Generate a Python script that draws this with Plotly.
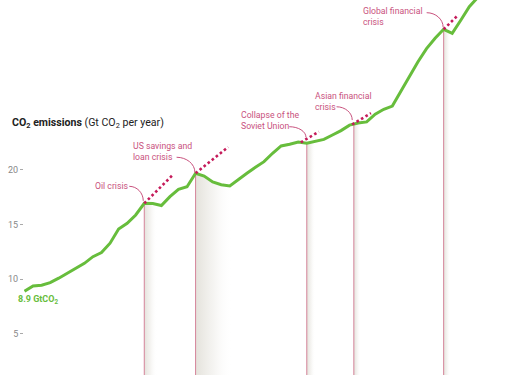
import numpy as np
import plotly.graph_objects as go

# ---------------- data ----------------
years = list(range(1959, 2013))
emissions = [8.9, 9.39, 9.45, 9.69, 10.1, 10.55, 11.0, 11.46, 12.07, 12.45, 13.3, 14.6, 15.12, 15.88, 16.95,
             16.93, 16.75, 17.56, 18.23, 18.47, 19.70,
             19.45, 18.9, 18.65, 18.54, 19.08, 19.7, 20.25, 20.76, 21.53, 22.2, 22.35, 22.56, 22.44,
             22.59, 22.8, 23.2, 23.6, 24.1, 24.3, 24.4, 25.1, 25.55, 25.85, 27.2, 28.6, 29.9, 31.1, 32.05, 32.87,
             32.5, 33.7, 34.94, 35.8]

crisis_names = ["Oil crisis", "US savings and<br>loan crisis", "Collapse of the<br>Soviet Union",
                "Asian financial<br>crisis", "Global financial<br>crisis"]
crisis_years = [1973, 1979, 1992, 1997.5, 2008]
trend_start_years = [1973, 1979, 1991.3, 1997.3, 2008]
trend_end_years = [1976.4, 1982.8, 1993.4, 1999.5, 2009.6]
trend_end_values = [19.6, 22.1, 23.5, 25.2, 34.1]
recovery_years = [1.5, 4.3, 1.0, 0.8, 0.8]

ytick_vals = [5, 10, 15, 20]
start_label = "8.9 GtCO<sub>2</sub>"

# ---------------- layout constants ----------------
W, H = 525, 375
ML = 24
XR = [1958.94, 2017.51]
YR = [1.244, 35.55]
plot_w, plot_h = W - ML, H
pxx = plot_w / (XR[1] - XR[0])
pxy = plot_h / (YR[1] - YR[0])

GREEN = "#67bd3c"
DOT = "#c51b5a"
LABEL = "#c9527e"
VLINE = "#d4849a"

label_style = [(-13.0, 17.3, "right"), (-64.5, 21.6, "left"), (-67.8, 23.0, "left"),
               (-40.5, 22.5, "left"), (-82.5, 12.5, "left")]
conn_start = [(-15, -17), (-19, -16), (-17.5, -16.6), (-17.3, -17.3), (-17, -16.6)]
conn_end = [(-1, -2.5), (-0.7, -1.0), (-0.8, -6.0), (-1.6, -4.0), (-0.5, -2.0)]

def val_at(yr):
    return float(np.interp(yr, years, emissions))

fig = go.Figure()

# shaded gradients under line after each crisis
for cy, w in zip(crisis_years, recovery_years):
    xs = np.linspace(cy, cy + w, 12)
    ys = [val_at(x) for x in xs]
    fig.add_trace(go.Scatter(
        x=xs, y=ys, mode="lines", line=dict(width=0), fill="tozeroy",
        fillgradient=dict(type="horizontal",
                          colorscale=[[0, "rgba(228,226,219,1)"], [0.5, "rgba(243,242,239,0.8)"],
                                      [1, "rgba(255,255,255,0)"]]),
        hoverinfo="skip", showlegend=False))

# vertical lines
vx, vy = [], []
for cy in crisis_years:
    vx += [cy, cy, None]
    vy += [0, val_at(cy), None]
fig.add_trace(go.Scatter(x=vx, y=vy, mode="lines", line=dict(color=VLINE, width=1),
                         hoverinfo="skip", showlegend=False))

# main line
fig.add_trace(go.Scatter(x=years, y=emissions, mode="lines",
                         line=dict(color=GREEN, width=3, shape="linear"),
                         hoverinfo="skip", showlegend=False))

# dotted trend lines
for sy, ey, ev in zip(trend_start_years, trend_end_years, trend_end_values):
    fig.add_trace(go.Scatter(x=[sy, ey], y=[val_at(sy), ev], mode="lines",
                             line=dict(color=DOT, width=2.6, dash="2.6px,2.6px"),
                             hoverinfo="skip", showlegend=False))

# crisis labels and connectors
for name, cy, (dx, dy, al), cs, ce in zip(crisis_names, crisis_years, label_style, conn_start, conn_end):
    cv = val_at(cy)
    fig.add_annotation(x=cy, y=cv, xref="x", yref="y", text=name, showarrow=False,
                       xanchor=al, yanchor="middle", align=al, xshift=dx, yshift=dy,
                       font=dict(family="Roboto", size=8.7, color=LABEL))
    sx, sy_ = cs
    ex, ey_ = ce
    c1 = (sx + 0.55 * (ex - sx), sy_)
    c2 = (ex, ey_ - 0.55 * (ey_ - sy_))
    def d(p):
        return f"{cy + p[0] / pxx},{cv - p[1] / pxy}"
    path = f"M {d((sx, sy_))} C {d(c1)} {d(c2)} {d((ex, ey_))}"
    fig.add_shape(type="path", path=path, xref="x", yref="y",
                  line=dict(color=LABEL, width=1))

# start label
fig.add_annotation(x=years[0], y=emissions[0], xref="x", yref="y", text="<b>" + start_label + "</b>",
                   showarrow=False, xanchor="left", yanchor="top", xshift=-9, yshift=-1,
                   font=dict(family="Roboto", size=9, color=GREEN))

# title
fig.add_annotation(x=(10 - ML) / plot_w, y=1 - 123 / H, xref="paper", yref="paper",
                   text="<b>CO<sub>2</sub> emissions</b> (Gt CO<sub>2</sub> per year)",
                   showarrow=False, xanchor="left", yanchor="middle",
                   font=dict(family="Roboto", size=10.6, color="#222"))

fig.update_layout(
    width=W, height=H, template="none",
    margin=dict(l=ML, r=0, t=0, b=0, pad=0),
    paper_bgcolor="white", plot_bgcolor="white",
    font=dict(family="Roboto"),
    showlegend=False,
    xaxis=dict(range=XR, visible=False, showgrid=False, zeroline=False),
    yaxis=dict(range=YR, tickvals=ytick_vals, ticks="outside", ticklen=3, tickwidth=1,
               tickcolor="#aaa", showline=False, showgrid=False, zeroline=False,
               tickfont=dict(family="Roboto", size=9, color="#888"), automargin=False),
)

fig.write_html("out.html", config={"displayModeBar": False},
               post_script="document.body.style.margin='0';")
